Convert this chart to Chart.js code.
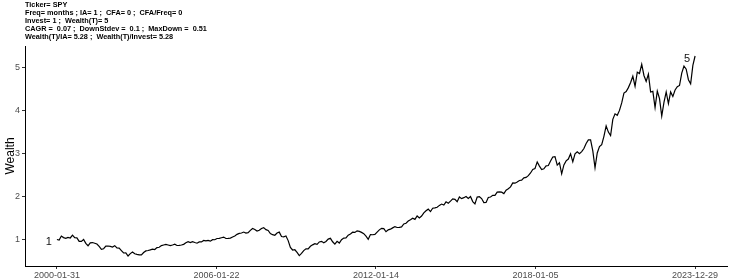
<!DOCTYPE html>
<html>
<head>
<meta charset="utf-8">
<title>Wealth SPY</title>
<script src="https://cdn.jsdelivr.net/npm/chart.js@4.4.1/dist/chart.umd.min.js"></script>
<style>
	body { margin: 0; background: #fff; }
	#wrap { width: 740px; height: 280px; }
</style>
</head>
<body>
<div id="wrap"><canvas id="wealth1" width="740" height="280"></canvas></div>
<script>
// monthly wealth, 2000-01-31 .. 2023-12-29 (one value per month)
var wealth = [
	1.000,0.986,1.081,1.044,1.029,1.049,1.035,1.101,1.041,1.039,0.957,0.956,
	0.999,0.909,0.854,0.922,0.929,0.913,0.895,0.838,0.771,0.784,0.845,0.848,
	0.840,0.825,0.856,0.802,0.798,0.741,0.685,0.688,0.615,0.670,0.708,0.666,
	0.652,0.642,0.643,0.696,0.734,0.744,0.757,0.774,0.765,0.810,0.818,0.857,
	0.872,0.885,0.871,0.857,0.871,0.889,0.860,0.864,0.872,0.887,0.924,0.948,
	0.928,0.950,0.929,0.913,0.944,0.943,0.979,0.966,0.978,0.961,0.996,0.994,
	1.023,1.027,1.041,1.056,1.023,1.026,1.032,1.058,1.081,1.119,1.141,1.151,
	1.173,1.149,1.160,1.213,1.256,1.234,1.198,1.215,1.258,1.277,1.230,1.211,
	1.140,1.112,1.098,1.152,1.172,1.070,1.062,1.080,0.974,0.814,0.755,0.761,
	0.700,0.625,0.674,0.741,0.781,0.782,0.842,0.875,0.903,0.887,0.943,0.957,
	0.924,0.954,1.010,1.027,0.947,0.892,0.958,0.916,0.994,1.034,1.035,1.101,
	1.128,1.169,1.165,1.201,1.189,1.166,1.136,1.078,1.004,1.115,1.111,1.118,
	1.172,1.225,1.261,1.254,1.181,1.224,1.240,1.271,1.301,1.280,1.284,1.293,
	1.361,1.380,1.429,1.459,1.495,1.469,1.548,1.504,1.546,1.620,1.671,1.707,
	1.650,1.728,1.737,1.752,1.795,1.826,1.804,1.878,1.846,1.893,1.948,1.935,
	1.881,1.990,1.952,1.975,2.003,1.957,2.003,1.884,1.829,1.988,1.998,1.955,
	1.860,1.862,1.980,1.991,2.029,2.028,2.104,2.110,2.103,2.070,2.150,2.183,
	2.226,2.317,2.313,2.340,2.376,2.384,2.437,2.447,2.488,2.551,2.632,2.655,
	2.809,2.711,2.631,2.648,2.716,2.724,2.829,2.923,2.932,2.733,2.789,2.532,
	2.739,2.832,2.876,2.997,2.811,2.996,3.046,3.000,3.049,3.120,3.239,3.322,
	3.325,3.067,2.673,3.016,3.164,3.212,3.406,3.649,3.504,3.421,3.800,3.930,
	3.896,4.010,4.185,4.413,4.448,4.541,4.659,4.805,4.573,4.902,4.870,5.084,
	4.824,4.688,4.857,4.438,4.454,4.076,4.458,4.283,3.877,4.198,4.439,4.169,
	4.439,4.334,4.485,4.563,4.591,4.878,5.045,4.970,4.726,4.630,5.061,5.278
];

// x ticks (month index position) and their labels
var tickPos = [0, 71.75, 143.5, 215.25, 287];
var tickLabels = ["2000-01-31", "2006-01-22", "2012-01-14", "2018-01-05", "2023-12-29"];
var yTicks = [1, 2, 3, 4, 5];

var titleLines = [
	"Ticker= SPY",
	"Freq= months ; IA= 1 ;  CFA= 0 ;  CFA/Freq= 0",
	"Invest= 1 ;  Wealth(T)= 5",
	"CAGR =  0.07 ;  DownStdev =  0.1 ;  MaxDown =  0.51",
	"Wealth(T)/IA= 5.28 ;  Wealth(T)/Invest= 5.28"
];
var endLabels = ["1", "5"];

var points = [];
for (var i in wealth) {
	points.push({x: Number(i), y: wealth[i]});
}

var lo = Math.min.apply(null, wealth), hi = Math.max.apply(null, wealth);
var ypad = 0.05 * (hi - lo);
var xpad = 0.05 * (wealth.length - 1);

var tickFont = {family: '"Liberation Sans", Arial, sans-serif', size: 9};

// header text + start/end labels
var textPlugin = {
	id: 'texts',
	afterDraw: function(chart) {
		var ctx = chart.ctx;
		ctx.save();
		ctx.fillStyle = '#000';
		ctx.font = 'bold 7.3px "Liberation Sans", Arial, sans-serif';
		ctx.textBaseline = 'middle';
		ctx.textAlign = 'left';
		for (var i = 0; i < titleLines.length; i++) {
			ctx.fillText(titleLines[i], 25, 4.5 + i * 8.2);
		}
		var meta = chart.getDatasetMeta(0);
		var first = meta.data[0], last = meta.data[meta.data.length - 1];
		ctx.font = '11px "Liberation Sans", Arial, sans-serif';
		ctx.textAlign = 'center';
		ctx.fillStyle = '#111';
		ctx.fillText(endLabels[0], first.x - 8, first.y + 2);
		ctx.fillText(endLabels[1], last.x - 8, last.y + 3);
		ctx.restore();
	}
};

var ctx = document.getElementById('wealth1');

var chart = new Chart(ctx, {
	type: 'line',
	data: {
		datasets: [{
			data: points,
			borderColor: '#000',
			borderWidth: 1.2,
			pointRadius: 0,
			fill: false,
			tension: 0
		}]
	},
	options: {
		responsive: false,
		animation: false,
		layout: {padding: {top: 46, right: 13, left: 0, bottom: 0}},
		plugins: {
			legend: {display: false},
			tooltip: {enabled: false}
		},
		scales: {
			x: {
				type: 'linear',
				min: -xpad,
				max: wealth.length - 1 + xpad,
				afterBuildTicks: function(scale) {
					scale.ticks = tickPos.map(function(v) { return {value: v}; });
				},
				afterFit: function(scale) { scale.height = 14; },
				grid: {display: true, drawOnChartArea: false, drawTicks: true, tickLength: 3, color: '#333'},
				border: {display: true, color: '#000', width: 1},
				ticks: {
					autoSkip: false,
					maxRotation: 0,
					padding: 1,
					color: '#4d4d4d',
					font: tickFont,
					callback: function(v) {
						var k = tickPos.indexOf(v);
						return k >= 0 ? tickLabels[k] : '';
					}
				}
			},
			y: {
				type: 'linear',
				min: lo - ypad,
				max: hi + ypad,
				afterBuildTicks: function(scale) {
					scale.ticks = yTicks.map(function(v) { return {value: v}; });
				},
				afterFit: function(scale) { scale.width = 25; },
				grid: {display: true, drawOnChartArea: false, drawTicks: true, tickLength: 3, color: '#333'},
				border: {display: true, color: '#000', width: 1},
				title: {
					display: true,
					text: 'Wealth',
					color: '#000',
					padding: {top: 3, bottom: 0},
					font: {family: '"Liberation Sans", Arial, sans-serif', size: 12}
				},
				ticks: {
					padding: 2,
					color: '#4d4d4d',
					font: tickFont
				}
			}
		}
	},
	plugins: [textPlugin]
});
</script>
</body>
</html>
